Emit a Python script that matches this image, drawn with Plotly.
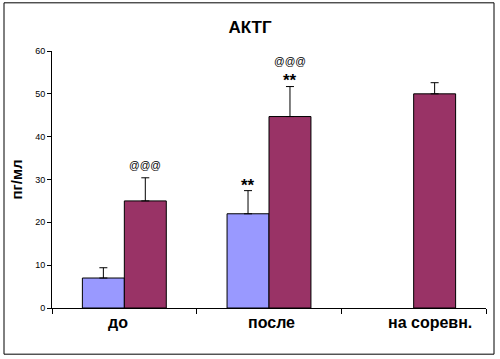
import plotly.graph_objects as go

categories = ["до", "после", "на соревн."]
series1 = [7, 22, None]
series1_err = [2.4, 5.4, 0]
series2 = [25, 44.7, 50]
series2_err = [5.4, 7.0, 2.6]
y_ticks = [0, 10, 20, 30, 40, 50, 60]
label_shift = [-6, 2, 16]

fig = go.Figure()
fig.add_trace(go.Bar(
    x=categories, y=series1, name="1",
    marker=dict(color="#9999FF", line=dict(color="black", width=1)),
    error_y=dict(type="data", symmetric=False, array=series1_err,
                 arrayminus=[0, 0, 0], color="black", thickness=1, width=4),
))
fig.add_trace(go.Bar(
    x=categories, y=series2, name="2",
    marker=dict(color="#993366", line=dict(color="black", width=1)),
    error_y=dict(type="data", symmetric=False, array=series2_err,
                 arrayminus=[0, 0, 0], color="black", thickness=1, width=4),
))

annots = [
    dict(x="до", y=33.3, text="@@@", xshift=21, font=dict(size=10.5)),
    dict(x="после", y=28.6, text="<b>**</b>", xshift=-21, font=dict(size=17)),
    dict(x="после", y=53.2, text="<b>**</b>", xshift=21, font=dict(size=17)),
    dict(x="после", y=57.6, text="@@@", xshift=21, font=dict(size=10.5)),
]
for a in annots:
    fig.add_annotation(x=a["x"], y=a["y"], text=a["text"], xshift=a["xshift"],
                       showarrow=False, xref="x", yref="y",
                       font=dict(family="Liberation Sans, Arial", color="black", **a["font"]))

for c, s in zip(categories, label_shift):
    fig.add_annotation(x=c, y=(308 - 322) / 256, text="<b>" + c + "</b>", xshift=s,
                       showarrow=False, xref="x", yref="paper", yanchor="middle",
                       font=dict(family="Liberation Sans, Arial", color="black", size=16))

fig.add_shape(type="rect", xref="paper", yref="paper",
              x0=(4 - 52) / 434, x1=(494 - 52) / 434,
              y0=(308 - 354) / 256, y1=(308 - 4) / 256,
              line=dict(color="black", width=1), layer="below")

fig.update_layout(
    width=500, height=359,
    margin=dict(l=52, r=14, t=51, b=51, autoexpand=False),
    paper_bgcolor="white", plot_bgcolor="white",
    barmode="group", bargap=0.42, bargroupgap=0,
    showlegend=False,
    font=dict(family="Liberation Sans, Arial", color="black"),
    title=dict(text="<b>АКТГ</b>", x=0.5, xanchor="center", y=1 - 27 / 359,
               yanchor="middle", font=dict(size=17)),
    xaxis=dict(showline=True, linecolor="black", linewidth=1,
               ticks="outside", tickson="boundaries", ticklen=5, tickcolor="black",
               showticklabels=False, showgrid=False),
    yaxis=dict(range=[0, 60], tickvals=y_ticks, showline=True, linecolor="black",
               linewidth=1, ticks="outside", ticklen=4, tickcolor="black",
               tickfont=dict(size=9), showgrid=False, zeroline=False,
               title=dict(text="<b>пг/мл</b>", font=dict(size=15), standoff=8)),
)

fig.write_html("out.html", config={"displayModeBar": False},
               post_script="document.body.style.margin='0';")
